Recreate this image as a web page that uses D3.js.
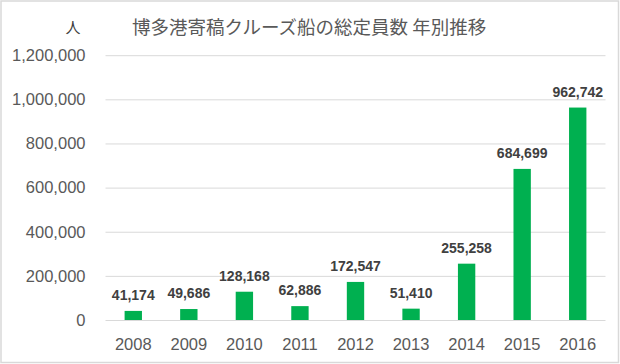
<!DOCTYPE html>
<html>
<head>
<meta charset="utf-8">
<script src="https://cdn.jsdelivr.net/npm/d3@7"></script>
<style>
  html, body { margin: 0; padding: 0; background: #fff; }
  svg { display: block; }
</style>
</head>
<body>
<div id="chart"></div>
<script>
"use strict";
// data
var years = ["2008", "2009", "2010", "2011", "2012", "2013", "2014", "2015", "2016"];
var passengers = [41174, 49686, 128168, 62886, 172547, 51410, 255258, 684699, 962742];
var yTicks = [0, 200000, 400000, 600000, 800000, 1000000, 1200000];
var titleText = "博多港寄稿クルーズ船の総定員数 年別推移";
var unitText = "人";

var width = 620, height = 364;
var plotLeft = 105.5, plotRight = 605.5, plotTop = 55.2, plotBottom = 320;
var latin = "'Liberation Sans', Arial, sans-serif";
var cjk = "'Noto Sans CJK JP', 'Noto Sans CJK SC', sans-serif";

var svg = d3.select("#chart").append("svg")
    .attr("width", width)
    .attr("height", height);

// chart border
svg.append("rect")
    .attr("x", 1).attr("y", 1)
    .attr("width", width - 2.5).attr("height", height - 2.5)
    .style("fill", "#fff")
    .style("stroke", "#d9d9d9")
    .style("stroke-width", 1.5);

var x = d3.scaleBand()
    .domain(years)
    .range([plotLeft, plotRight])
    .paddingInner(0.6875)
    .paddingOuter(0.34375);

var y = d3.scaleLinear()
    .domain([0, 1200000])
    .range([plotBottom, plotTop]);

// gridlines + y labels
var yAxis = svg.append("g")
    .attr("transform", "translate(" + plotLeft + ",0)")
    .call(d3.axisLeft(y)
        .tickValues(yTicks)
        .tickSize(-(plotRight - plotLeft))
        .tickPadding(20)
        .tickFormat(d3.format(",")));
yAxis.select(".domain").remove();
yAxis.selectAll(".tick line")
    .style("stroke", "#d9d9d9")
    .style("stroke-width", 1);
yAxis.selectAll(".tick text")
    .style("font-family", latin)
    .style("font-size", "16.5px")
    .style("fill", "#595959");

// x labels
var xAxis = svg.append("g")
    .attr("transform", "translate(0," + plotBottom + ")")
    .call(d3.axisBottom(x).tickSize(0).tickPadding(18));
xAxis.select(".domain").remove();
xAxis.selectAll(".tick text")
    .style("font-family", latin)
    .style("font-size", "16.5px")
    .style("fill", "#595959");

// bars
svg.selectAll("rect.bar")
    .data(passengers)
    .enter().append("rect")
    .attr("class", "bar")
    .attr("x", function (d, i) { return x(years[i]); })
    .attr("y", function (d) { return y(d); })
    .attr("width", x.bandwidth())
    .attr("height", function (d) { return plotBottom - y(d); })
    .style("fill", "#00b050");

// value labels
svg.selectAll("text.val")
    .data(passengers)
    .enter().append("text")
    .attr("class", "val")
    .attr("x", function (d, i) { return x(years[i]) + x.bandwidth() / 2; })
    .attr("y", function (d) { return y(d) - 11; })
    .attr("text-anchor", "middle")
    .style("font-family", latin)
    .style("font-weight", "bold")
    .style("font-size", "14px")
    .style("fill", "#404040")
    .text(d3.format(","));

// title and unit
svg.append("text")
    .attr("x", 132)
    .attr("y", 34)
    .style("font-family", cjk)
    .style("font-size", "18.5px")
    .style("fill", "#595959")
    .text(titleText);

svg.append("text")
    .attr("x", 73)
    .attr("y", 33)
    .attr("text-anchor", "middle")
    .style("font-family", cjk)
    .style("font-size", "15px")
    .style("fill", "#404040")
    .text(unitText);
</script>
</body>
</html>
